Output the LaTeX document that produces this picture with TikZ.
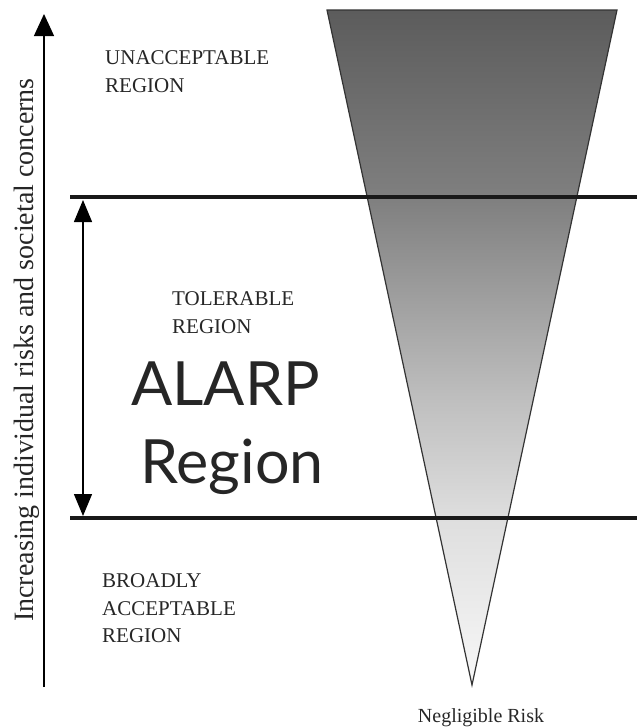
\documentclass[tikz,border=0pt]{standalone}
\usepackage{fontspec}
\setmainfont{Liberation Serif}
\newfontfamily\alarpfont{Lato}
\usetikzlibrary{arrows.meta}
\pgfdeclareverticalshading{funnelshade}{100bp}{%
  color(0bp)=(black!3);
  color(25bp)=(black!3);
  color(37.4bp)=(black!13);
  color(46bp)=(black!25);
  color(61bp)=(black!50);
  color(75bp)=(black!64);
  color(100bp)=(black!64)}
\tikzset{
  lbl/.style={anchor=base west, inner sep=0pt, font=\fontsize{21}{28}\selectfont, text=black!85},
  big/.style={anchor=base west, inner sep=0pt, font=\alarpfont\fontsize{61}{70}\selectfont, text=black!85},
  band/.style={line width=4.5pt, black!90},
  axis/.style={line width=1.3pt, -{Triangle[length=22pt,width=20pt]}},
  span/.style={line width=1.3pt, {Triangle[length=22pt,width=18pt]}-{Triangle[length=22pt,width=18pt]}}
}
\begin{document}
\begin{tikzpicture}[x=1pt,y=-1pt]
\useasboundingbox (0,0) rectangle (637,728);
% funnel
\coordinate (tl) at (327,10);
\coordinate (tr) at (617,10);
\coordinate (ap) at (472,685);
\shade[shading=funnelshade] (tl) -- (tr) -- (ap) -- cycle;
\draw[line width=1.2pt, black!80, line join=miter] (tl) -- (tr) -- (ap) -- cycle;
% band lines
\coordinate (h1a) at (70,197);
\coordinate (h1b) at (637,197);
\coordinate (h2a) at (70,518);
\coordinate (h2b) at (637,518);
\draw[band] (h1a) -- (h1b);
\draw[band] (h2a) -- (h2b);
% ALARP span arrow
\coordinate (sa) at (83,200);
\coordinate (sb) at (83,516);
\draw[span] (sa) -- (sb);
% vertical axis
\coordinate (ax0) at (44,687);
\coordinate (ax1) at (44,14);
\draw[axis] (ax0) -- (ax1);
\node[rotate=90, anchor=base west, inner sep=0pt, font=\fontsize{28}{30}\selectfont, text=black!85] (axl) at (33,622) {Increasing individual risks and societal concerns};
% labels
\node[lbl] (u1) at (105,64) {UNACCEPTABLE};
\node[lbl] (u2) at (105,92) {REGION};
\node[lbl] (t1) at (172,305) {TOLERABLE};
\node[lbl] (t2) at (172,333) {REGION};
\node[big] (a1) at (131,405) {ALARP};
\node[big] (a2) at (140,483) {Region};
\node[lbl] (b1) at (102,587) {BROADLY};
\node[lbl] (b2) at (102,615) {ACCEPTABLE};
\node[lbl] (b3) at (102,642) {REGION};
\node[anchor=base, inner sep=0pt, font=\fontsize{20}{24}\selectfont, text=black!85] (neg) at (481,722) {Negligible Risk};
\end{tikzpicture}
\end{document}
